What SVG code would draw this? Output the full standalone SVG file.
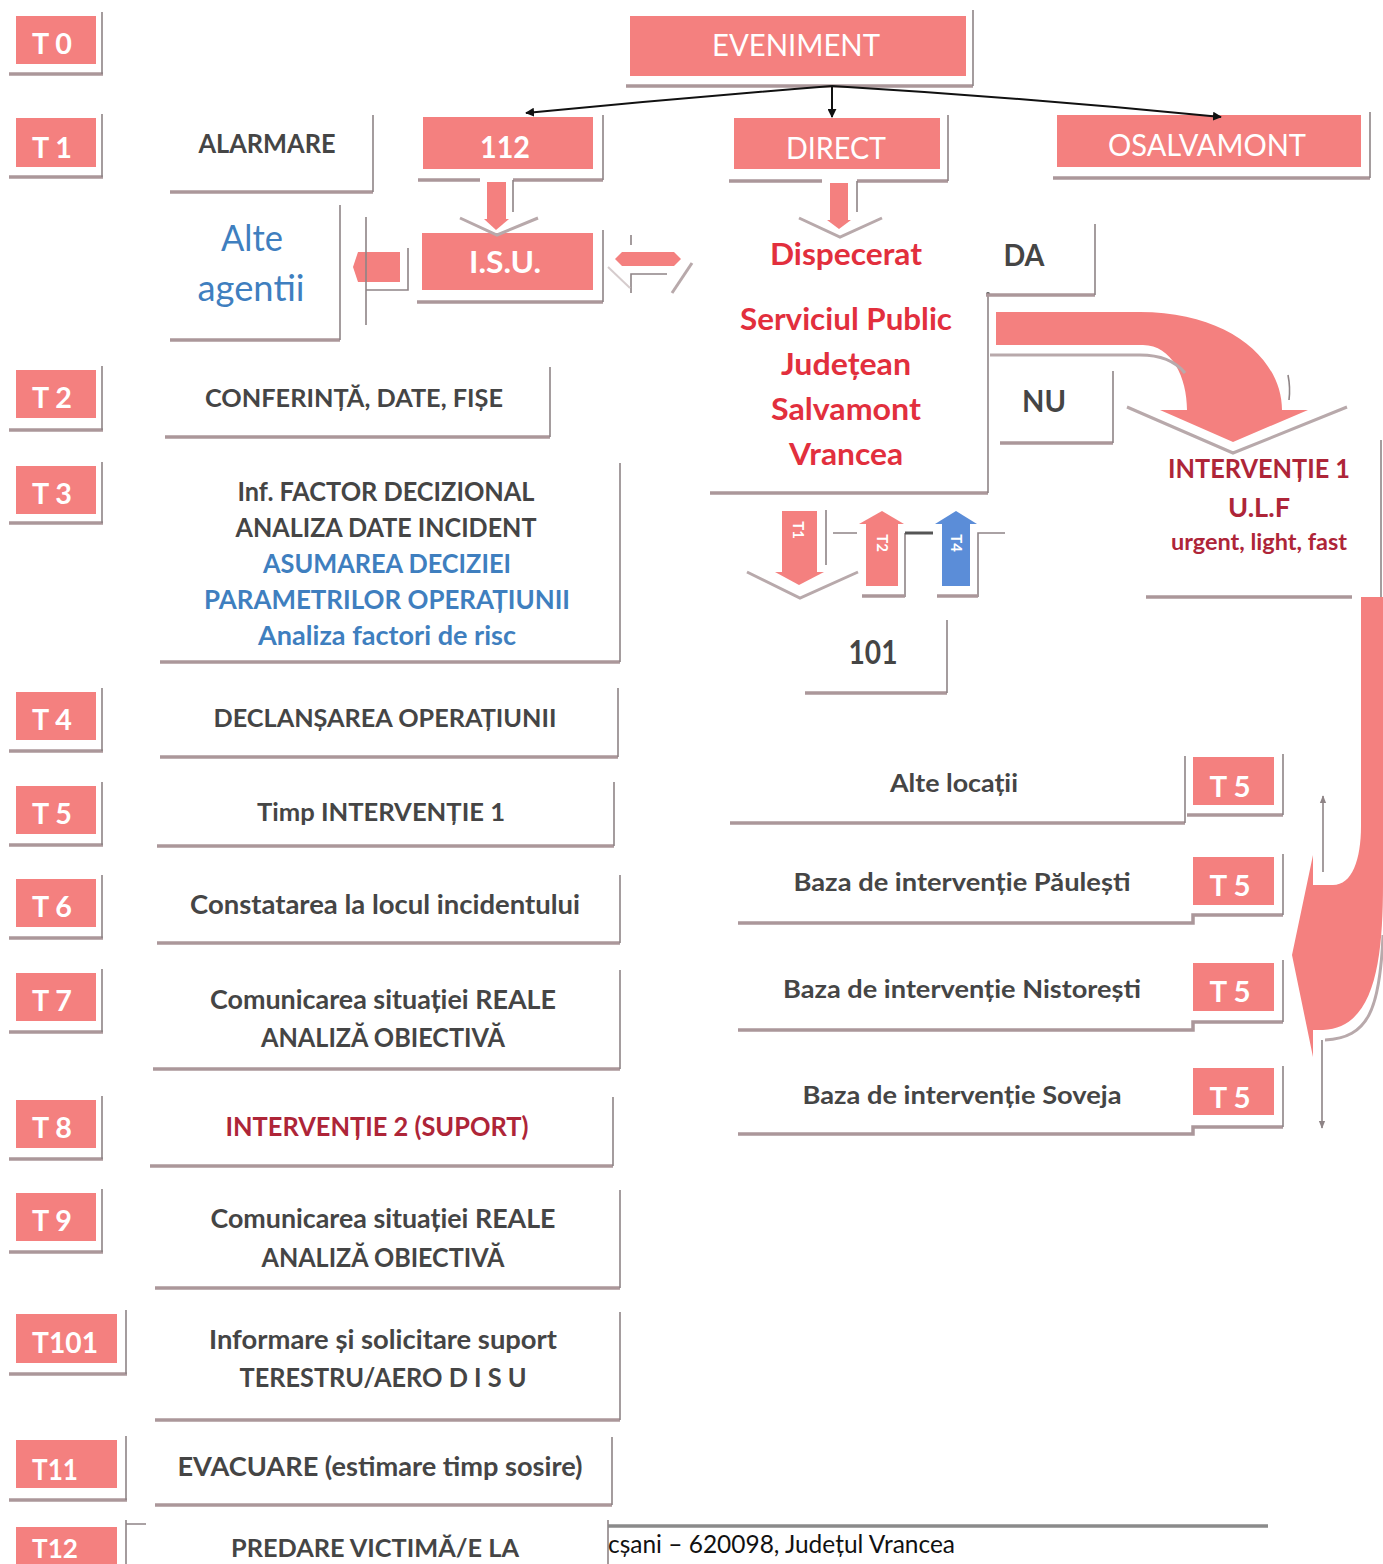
<svg xmlns="http://www.w3.org/2000/svg" width="1383" height="1564" viewBox="0 0 1383 1564">
<defs>
<style>
.pk{fill:#F4807F}
.bl{fill:#5B8DD8}
.sb{stroke:#ab979a;stroke-width:3.5;fill:none}
.sv{stroke:#8e8486;stroke-width:1.6;fill:none}
.sg{stroke:#b8a9ab;stroke-width:3;fill:none}
.t{font-family:Lato,"Open Sans","Liberation Sans",sans-serif;text-anchor:middle}
.w{fill:#ffffff}
.wb{fill:#ffffff;font-weight:bold}
.d{fill:#454545;font-weight:bold}
.b{fill:#3F7FBF;font-weight:bold}
.r{fill:#E22F3D;font-weight:bold}
.dr{fill:#AE2538;font-weight:bold}
.con{stroke:#111;stroke-width:2;fill:none}
</style>
<marker id="ah" viewBox="0 0 10 10" refX="9" refY="5" markerWidth="9" markerHeight="9" markerUnits="userSpaceOnUse" orient="auto"><path d="M0,0 L10,5 L0,10 Z" fill="#111"/></marker>
<marker id="ahg" viewBox="0 0 10 10" refX="9" refY="5" markerWidth="8" markerHeight="8" markerUnits="userSpaceOnUse" orient="auto"><path d="M0,1 L10,5 L0,9 Z" fill="#8e8486"/></marker>
</defs>
<rect width="1383" height="1564" fill="#ffffff"/>

<!-- T labels -->
<g id="T0"><rect class="pk" x="16" y="16" width="80" height="48"/><path class="sb" d="M9 74 H103"/><path class="sv" d="M102 12 V74"/><text class="t wb" x="52" y="54" font-size="28" textLength="40" lengthAdjust="spacingAndGlyphs">T 0</text></g>
<g id="T1"><rect class="pk" x="16" y="118" width="80" height="49"/><path class="sb" d="M9 177 H103"/><path class="sv" d="M102 114 V177"/><text class="t wb" x="52" y="158" font-size="28" textLength="40" lengthAdjust="spacingAndGlyphs">T 1</text></g>
<g id="T2"><rect class="pk" x="16" y="370" width="80" height="48"/><path class="sb" d="M9 430 H103"/><path class="sv" d="M102 366 V430"/><text class="t wb" x="52" y="408" font-size="28" textLength="40" lengthAdjust="spacingAndGlyphs">T 2</text></g>
<g id="T3"><rect class="pk" x="16" y="466" width="80" height="48"/><path class="sb" d="M9 523 H103"/><path class="sv" d="M102 462 V523"/><text class="t wb" x="52" y="504" font-size="28" textLength="40" lengthAdjust="spacingAndGlyphs">T 3</text></g>
<g id="T4"><rect class="pk" x="16" y="692" width="80" height="48"/><path class="sb" d="M9 751 H103"/><path class="sv" d="M102 688 V751"/><text class="t wb" x="52" y="730" font-size="28" textLength="40" lengthAdjust="spacingAndGlyphs">T 4</text></g>
<g id="T5"><rect class="pk" x="16" y="786" width="80" height="48"/><path class="sb" d="M9 845 H103"/><path class="sv" d="M102 782 V845"/><text class="t wb" x="52" y="824" font-size="28" textLength="40" lengthAdjust="spacingAndGlyphs">T 5</text></g>
<g id="T6"><rect class="pk" x="16" y="879" width="80" height="48"/><path class="sb" d="M9 938 H103"/><path class="sv" d="M102 875 V938"/><text class="t wb" x="52" y="917" font-size="28" textLength="40" lengthAdjust="spacingAndGlyphs">T 6</text></g>
<g id="T7"><rect class="pk" x="16" y="973" width="80" height="48"/><path class="sb" d="M9 1032 H103"/><path class="sv" d="M102 969 V1032"/><text class="t wb" x="52" y="1011" font-size="28" textLength="40" lengthAdjust="spacingAndGlyphs">T 7</text></g>
<g id="T8"><rect class="pk" x="16" y="1100" width="80" height="48"/><path class="sb" d="M9 1159 H103"/><path class="sv" d="M102 1096 V1159"/><text class="t wb" x="52" y="1138" font-size="28" textLength="40" lengthAdjust="spacingAndGlyphs">T 8</text></g>
<g id="T9"><rect class="pk" x="16" y="1193" width="80" height="48"/><path class="sb" d="M9 1252 H103"/><path class="sv" d="M102 1189 V1252"/><text class="t wb" x="52" y="1231" font-size="28" textLength="40" lengthAdjust="spacingAndGlyphs">T 9</text></g>
<g id="T101"><rect class="pk" x="16" y="1314" width="101" height="49"/><path class="sb" d="M9 1374 H127"/><path class="sv" d="M126 1310 V1374"/><text class="t wb" x="65" y="1353" font-size="28" textLength="66" lengthAdjust="spacingAndGlyphs">T101</text></g>
<g id="T11"><rect class="pk" x="16" y="1440" width="101" height="48"/><path class="sb" d="M9 1500 H127"/><path class="sv" d="M126 1436 V1500"/><text class="t wb" x="55" y="1480" font-size="28" textLength="46" lengthAdjust="spacingAndGlyphs">T11</text></g>
<g id="T12"><rect class="pk" x="16" y="1527" width="101" height="40"/><path class="sv" d="M126 1520 V1564 M126 1524 H146"/><text class="t wb" x="55" y="1558" font-size="26" textLength="46" lengthAdjust="spacingAndGlyphs">T12</text></g>

<!-- top row -->
<g id="eveniment"><rect class="pk" x="630" y="16" width="336" height="60"/><path class="sb" d="M626 86 H973"/><path class="sv" d="M973 10 V86"/><text class="t w" x="796" y="56" font-size="30" textLength="168" lengthAdjust="spacingAndGlyphs">EVENIMENT</text></g>
<g id="alarmare"><path class="sb" d="M170 192 H373"/><path class="sv" d="M373 115 V192"/><text class="t d" x="267" y="153" font-size="26" textLength="137" lengthAdjust="spacingAndGlyphs">ALARMARE</text></g>
<g id="n112"><rect class="pk" x="423" y="117" width="170" height="52"/><path class="sb" d="M418 180 H480 M513 180 H603"/><path class="sv" d="M603 115 V180 M513 180 V212"/><text class="t wb" x="505" y="158" font-size="30" textLength="50" lengthAdjust="spacingAndGlyphs">112</text></g>
<g id="direct"><rect class="pk" x="734" y="118" width="206" height="51"/><path class="sb" d="M729 181 H822 M857 181 H948"/><path class="sv" d="M948 115 V181 M857 181 V212"/><text class="t w" x="836" y="159" font-size="30" textLength="100" lengthAdjust="spacingAndGlyphs">DIRECT</text></g>
<g id="osalvamont"><rect class="pk" x="1057" y="115" width="304" height="52"/><path class="sb" d="M1053 178 H1370"/><path class="sv" d="M1370 112 V178"/><text class="t w" x="1207" y="156" font-size="30" textLength="198" lengthAdjust="spacingAndGlyphs">OSALVAMONT</text></g>
<g id="isu"><rect class="pk" x="422" y="233" width="171" height="57"/><path class="sb" d="M417 302 H603"/><path class="sv" d="M603 230 V302"/><text class="t wb" x="505" y="273" font-size="30" textLength="72" lengthAdjust="spacingAndGlyphs">I.S.U.</text></g>
<g id="alte-agentii"><path class="sb" d="M170 340 H340"/><path class="sv" d="M340 205 V340"/><text class="t" x="252" y="251" font-size="36" fill="#3F7FBF" textLength="62" lengthAdjust="spacingAndGlyphs">Alte</text><text class="t" x="251" y="301" font-size="36" fill="#3F7FBF" textLength="107" lengthAdjust="spacingAndGlyphs">agentii</text></g>
<g id="dispecerat"><path class="sb" d="M710 493 H988"/><path class="sv" d="M988 294 V493"/><circle cx="988" cy="294" r="2" fill="#555"/>
<text class="t r" x="846" y="265" font-size="30" textLength="152" lengthAdjust="spacingAndGlyphs">Dispecerat</text>
<text class="t r" x="846" y="330" font-size="30" textLength="212" lengthAdjust="spacingAndGlyphs">Serviciul Public</text>
<text class="t r" x="846" y="375" font-size="30" textLength="130" lengthAdjust="spacingAndGlyphs">Județean</text>
<text class="t r" x="846" y="420" font-size="30" textLength="150" lengthAdjust="spacingAndGlyphs">Salvamont</text>
<text class="t r" x="846" y="465" font-size="30" textLength="114" lengthAdjust="spacingAndGlyphs">Vrancea</text></g>
<g id="da"><path class="sb" d="M986 295 H1095"/><path class="sv" d="M1095 224 V295"/><text class="t d" x="1024" y="266" font-size="30" textLength="41" lengthAdjust="spacingAndGlyphs">DA</text></g>
<g id="nu"><path class="sb" d="M1000 443 H1113"/><path class="sv" d="M1113 371 V443"/><text class="t d" x="1044" y="412" font-size="30" textLength="44" lengthAdjust="spacingAndGlyphs">NU</text></g>
<g id="interventie1"><path class="sb" d="M1146 597 H1352"/><path class="sv" d="M1381 440 V597"/>
<text class="t dr" x="1259" y="478" font-size="26" textLength="182" lengthAdjust="spacingAndGlyphs">INTERVENȚIE 1</text>
<text class="t dr" x="1259" y="517" font-size="26" textLength="62" lengthAdjust="spacingAndGlyphs">U.L.F</text>
<text class="t dr" x="1259" y="550" font-size="22" textLength="176" lengthAdjust="spacingAndGlyphs">urgent, light, fast</text></g>
<g id="n101"><path class="sb" d="M805 693 H947"/><path class="sv" d="M947 620 V693"/><text class="t d" x="873" y="664" font-size="32" textLength="49" lengthAdjust="spacingAndGlyphs">101</text></g>

<!-- left column -->
<g id="conferinta"><path class="sb" d="M165 437 H550"/><path class="sv" d="M550 367 V437"/><text class="t d" x="354" y="407" font-size="25" textLength="298" lengthAdjust="spacingAndGlyphs">CONFERINȚĂ, DATE, FIȘE</text></g>
<g id="decizie"><path class="sb" d="M160 662 H620"/><path class="sv" d="M620 463 V662"/>
<text class="t d" x="386" y="501" font-size="26" textLength="297" lengthAdjust="spacingAndGlyphs">Inf. FACTOR DECIZIONAL</text>
<text class="t d" x="386" y="537" font-size="26" textLength="301" lengthAdjust="spacingAndGlyphs">ANALIZA DATE INCIDENT</text>
<text class="t b" x="387" y="573" font-size="26" textLength="248" lengthAdjust="spacingAndGlyphs">ASUMAREA DECIZIEI</text>
<text class="t b" x="387" y="609" font-size="26" textLength="366" lengthAdjust="spacingAndGlyphs">PARAMETRILOR  OPERAȚIUNII</text>
<text class="t b" x="387" y="645" font-size="26" textLength="258" lengthAdjust="spacingAndGlyphs">Analiza factori de risc</text></g>
<g id="declansare"><path class="sb" d="M160 757 H618"/><path class="sv" d="M618 688 V757"/><text class="t d" x="385" y="727" font-size="25" textLength="343" lengthAdjust="spacingAndGlyphs">DECLANȘAREA OPERAȚIUNII</text></g>
<g id="timp"><path class="sb" d="M157 846 H614"/><path class="sv" d="M614 782 V846"/><text class="t d" x="381" y="821" font-size="25" textLength="248" lengthAdjust="spacingAndGlyphs">Timp INTERVENȚIE 1</text></g>
<g id="constatare"><path class="sb" d="M157 943 H620"/><path class="sv" d="M620 875 V943"/><text class="t d" x="385" y="914" font-size="26" textLength="390" lengthAdjust="spacingAndGlyphs">Constatarea la locul incidentului</text></g>
<g id="comunicare1"><path class="sb" d="M153 1069 H620"/><path class="sv" d="M620 970 V1069"/>
<text class="t d" x="383" y="1009" font-size="26" textLength="346" lengthAdjust="spacingAndGlyphs">Comunicarea situației REALE</text>
<text class="t d" x="383" y="1047" font-size="26" textLength="244" lengthAdjust="spacingAndGlyphs">ANALIZĂ OBIECTIVĂ</text></g>
<g id="interventie2"><path class="sb" d="M150 1166 H613"/><path class="sv" d="M613 1097 V1166"/><text class="t dr" x="377" y="1136" font-size="26" textLength="303" lengthAdjust="spacingAndGlyphs">INTERVENȚIE 2 (SUPORT)</text></g>
<g id="comunicare2"><path class="sb" d="M155 1288 H620"/><path class="sv" d="M620 1190 V1288"/>
<text class="t d" x="383" y="1228" font-size="26" textLength="345" lengthAdjust="spacingAndGlyphs">Comunicarea situației REALE</text>
<text class="t d" x="383" y="1267" font-size="26" textLength="243" lengthAdjust="spacingAndGlyphs">ANALIZĂ OBIECTIVĂ</text></g>
<g id="informare"><path class="sb" d="M155 1420 H620"/><path class="sv" d="M620 1312 V1420"/>
<text class="t d" x="383" y="1349" font-size="26" textLength="348" lengthAdjust="spacingAndGlyphs">Informare și solicitare suport</text>
<text class="t d" x="383" y="1387" font-size="26" textLength="287" lengthAdjust="spacingAndGlyphs">TERESTRU/AERO D I S U</text></g>
<g id="evacuare"><path class="sb" d="M155 1505 H612"/><path class="sv" d="M612 1437 V1505"/><text class="t d" x="380" y="1476" font-size="26" textLength="405" lengthAdjust="spacingAndGlyphs">EVACUARE (estimare timp sosire)</text></g>
<g id="predare"><path class="sv" d="M608 1520 V1564"/><text class="t d" x="375" y="1557" font-size="24" textLength="288" lengthAdjust="spacingAndGlyphs">PREDARE VICTIMĂ/E LA</text></g>
<g id="footer"><path d="M608 1526 H1268" stroke="#8a8a8a" stroke-width="3.5"/><text font-family="Lato,'Open Sans','Liberation Sans',sans-serif" x="608" y="1553" font-size="25" fill="#111" textLength="347" lengthAdjust="spacingAndGlyphs">cșani – 620098, Județul Vrancea</text></g>

<!-- right locations -->
<g id="alte-locatii"><path class="sb" d="M730 823 H1185"/><path class="sv" d="M1185 756 V823"/><text class="t d" x="954" y="792" font-size="25" textLength="128" lengthAdjust="spacingAndGlyphs">Alte locații</text>
<rect class="pk" x="1193" y="757" width="81" height="48"/><path class="sb" d="M1187 815 H1283"/><path class="sv" d="M1283 754 V815"/><text class="t wb" x="1230" y="797" font-size="28" textLength="41" lengthAdjust="spacingAndGlyphs">T 5</text></g>
<g id="paulesti"><path class="sb" d="M738 923 H1193 V915 H1283"/><path class="sv" d="M1283 854 V915"/><text class="t d" x="962" y="891" font-size="25" textLength="337" lengthAdjust="spacingAndGlyphs">Baza de intervenție Păulești</text>
<rect class="pk" x="1193" y="857" width="81" height="48"/><text class="t wb" x="1230" y="896" font-size="28" textLength="41" lengthAdjust="spacingAndGlyphs">T 5</text></g>
<g id="nistoresti"><path class="sb" d="M738 1030 H1193 V1022 H1283"/><path class="sv" d="M1283 960 V1022"/><text class="t d" x="962" y="998" font-size="25" textLength="358" lengthAdjust="spacingAndGlyphs">Baza de intervenție Nistorești</text>
<rect class="pk" x="1193" y="963" width="81" height="48"/><text class="t wb" x="1230" y="1002" font-size="28" textLength="41" lengthAdjust="spacingAndGlyphs">T 5</text></g>
<g id="soveja"><path class="sb" d="M738 1134 H1193 V1127 H1283"/><path class="sv" d="M1283 1066 V1127"/><text class="t d" x="962" y="1104" font-size="25" textLength="319" lengthAdjust="spacingAndGlyphs">Baza de intervenție Soveja</text>
<rect class="pk" x="1193" y="1068" width="81" height="47"/><text class="t wb" x="1230" y="1108" font-size="28" textLength="41" lengthAdjust="spacingAndGlyphs">T 5</text></g>

<!-- connectors -->
<g id="connectors">
<path class="con" d="M832 86 Q680 98 526 113" marker-end="url(#ah)"/>
<path class="con" d="M832 86 L832 117" marker-end="url(#ah)"/>
<path class="con" d="M832 86 Q1030 98 1221 117" marker-end="url(#ah)"/>

<!-- 112 -> ISU -->
<rect class="pk" x="487" y="182" width="19" height="38"/>
<path class="pk" d="M484 219 H509 L496 230 Z"/>
<path class="sg" d="M460 218 L497 235 L538 218"/>
<!-- DIRECT -> Dispecerat -->
<rect class="pk" x="830" y="183" width="18" height="38"/>
<path class="pk" d="M827 220 H851 L839 229 Z"/>
<path class="sg" d="M799 218 L840 237 L882 218"/>
<!-- ISU -> Alte agentii -->
<path class="pk" d="M358 252 H400 V282 H358 L353 267 Z"/>
<path class="sv" d="M366 217 V325 M366 290 H408 V248"/>
<!-- double arrow -->
<path class="pk" d="M615 259 L622 252 H674 L681 259 L674 266 H622 Z"/>
<path class="sv" d="M631 235 V245 M631 293 V274 H667"/>
<path class="sg" d="M692 263 L672 293" stroke-width="2.5"/>
<path d="M608 267 L630 288" stroke="#d6cccd" stroke-width="2"/>

<!-- curved arrow to INTERVENTIE 1 -->
<path class="pk" d="M996 312 L1140 312 C1230 312 1282 360 1282 410 L1308 410 L1233 442 L1160 410 L1187 410 C1187 378 1172 345 1143 345 L996 345 Z"/>
<path class="sg" d="M990 355 H1140 C1162 355 1176 362 1185 373"/>
<path class="sv" d="M1288 375 C1290 385 1290 392 1289 400"/>
<path class="sg" d="M1127 407 L1233 453 L1347 407"/>

<!-- small arrows T1 T2 T4 -->
<rect class="pk" x="782" y="511" width="35" height="62"/>
<path class="pk" d="M775 572 H824 L799 585 Z"/>
<path class="sg" d="M747 572 L800 598 L858 572"/>
<path class="sv" d="M826 510 V565 M833 533 H857"/>
<text class="t w" transform="translate(793 530) rotate(90)" font-size="15" font-weight="bold">T1</text>
<rect class="pk" x="866" y="523" width="32" height="63"/>
<path class="pk" d="M859 524 H904 L882 511 Z"/>
<path class="sv" d="M905 597 V533"/>
<path d="M905 533 H933" stroke="#555" stroke-width="3"/>
<path class="sb" d="M862 596 H905"/>
<text class="t w" transform="translate(877 543) rotate(90)" font-size="15" font-weight="bold">T2</text>
<rect class="bl" x="942" y="523" width="28" height="63"/>
<path class="bl" d="M935 524 H977 L956 511 Z"/>
<path class="sv" d="M978 597 V533 H1005"/>
<path class="sb" d="M937 596 H978" stroke="#9a99c4"/>
<text class="t w" transform="translate(951 543) rotate(90)" font-size="15" font-weight="bold">T4</text>

<!-- curved arrow down right -->
<path class="pk" d="M1361 597 L1383 597 L1383 884 C1383 960 1375 1028 1323 1030 L1313 1030 L1313 1057 L1292 955 L1313 855 L1313 885 L1333 885 C1352 885 1361 860 1361 826 Z"/>
<path class="sg" d="M1383 935 C1380 1010 1368 1038 1325 1040"/>
<path class="sv" d="M1322 1040 V1128" marker-end="url(#ahg)"/>
<path class="sv" d="M1323 872 V796" marker-end="url(#ahg)"/>
</g>
</svg>
